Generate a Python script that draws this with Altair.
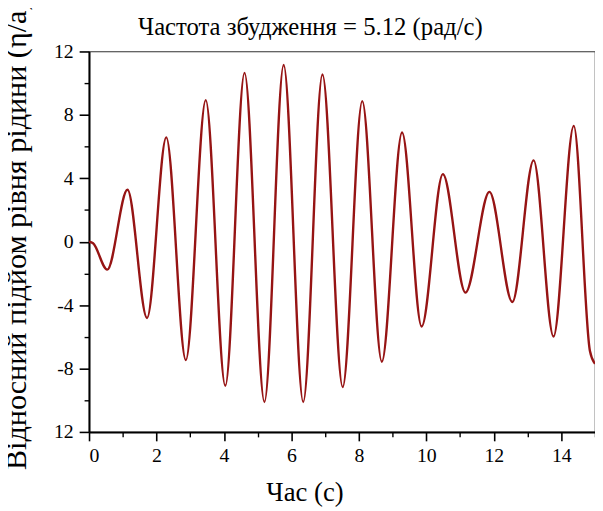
import altair as alt
import pandas as pd

# Extrema (and start/end) of the response curve
time_s = [0.0, 0.12, 0.54, 1.14, 1.72, 2.29, 2.87, 3.46, 4.04, 4.61, 5.20, 5.77,
          6.35, 6.92, 7.52, 8.10, 8.68, 9.28, 9.86, 10.49, 11.16, 11.87, 12.55,
          13.18, 13.77, 14.37, 14.85, 15.0]
eta_a = [0.0, -0.10, -1.76, 3.28, -4.81, 6.58, -7.47, 8.93, -9.09, 10.65, -10.11,
         11.15, -10.11, 10.55, -9.17, 8.87, -7.57, 6.89, -5.35, 4.26, -3.21, 3.14,
         -3.80, 5.13, -5.98, 7.31, -6.90, -7.70]

x_major = [0, 2, 4, 6, 8, 10, 12, 14]
x_minor = [1, 3, 5, 7, 9, 11, 13, 15]
y_major = [-12, -8, -4, 0, 4, 8, 12]
y_minor = [-10, -6, -2, 2, 6, 10]

title_text = "Частота збудження = 5.12 (рад/с)"
x_title = "Час (с)"
y_title = "Відносний підйом рівня рідини (η/a)"

df = pd.DataFrame({"t": time_s, "eta": eta_a})
title_df = pd.DataFrame({"label": [title_text]})

FONT = "Liberation Serif"
xscale = alt.Scale(domain=[0, 15], nice=False, zero=False)
yscale = alt.Scale(domain=[-12, 12], nice=False, zero=False)

line = alt.Chart(df).mark_line(
    color="#961414", strokeWidth=2.4, interpolate="monotone", clip=True
).encode(
    x=alt.X("t:Q", scale=xscale, axis=alt.Axis(
        values=x_major, format="d", orient="bottom", tickSize=9, tickWidth=1.6,
        tickColor="black", domainColor="black", domainWidth=2,
        labelFont=FONT, labelFontSize=20, labelColor="black", labelPadding=5,
        title=x_title, titleFont=FONT, titleFontSize=27, titleFontWeight="normal",
        titleColor="black", titleAlign="center", titleBaseline="alphabetic",
        titleX=218, titleY=69, grid=False)),
    y=alt.Y("eta:Q", scale=yscale, axis=alt.Axis(
        values=y_major, orient="left", tickSize=10, tickWidth=1.6,
        labelExpr="datum.value == -12 ? '12' : (datum.value < 0 ? '-' + abs(datum.value) : '' + datum.value)",
        tickColor="black", domainColor="black", domainWidth=2,
        labelFont=FONT, labelFontSize=20, labelColor="black", labelPadding=6,
        title=y_title, titleFont=FONT, titleFontSize=30.5, titleFontWeight="normal",
        titleColor="black", titleAngle=270, titleAlign="left", titleBaseline="alphabetic",
        titleX=-64, titleY=423, grid=False)),
)

minor = alt.Chart(df).mark_line(opacity=0).encode(
    x=alt.X("t:Q", scale=xscale, axis=alt.Axis(
        values=x_minor, orient="bottom", tickSize=5, tickWidth=1.4, tickColor="black",
        labels=False, domain=False, title="", grid=False)),
    y=alt.Y("eta:Q", scale=yscale, axis=alt.Axis(
        values=y_minor, orient="left", tickSize=5, tickWidth=1.4, tickColor="black",
        labels=False, domain=False, title="", grid=False)),
)

title_mark = alt.Chart(title_df).mark_text(
    font=FONT, fontSize=25, color="black", align="center", baseline="alphabetic"
).encode(text="label:N", x=alt.value(224), y=alt.value(-17))

chart = alt.layer(line, minor, title_mark).resolve_axis(
    x="independent", y="independent"
).properties(
    width=512, height=385,
    autosize=alt.AutoSizeParams(type="none"),
    padding={"left": 82, "top": 41, "right": 0, "bottom": 75},
).configure(
    background="white", font=FONT
).configure_text(
    font=FONT
).configure_view(stroke="#333333", strokeWidth=1.2)

chart.save("out.html", embed_options={"renderer": "svg", "actions": False})
